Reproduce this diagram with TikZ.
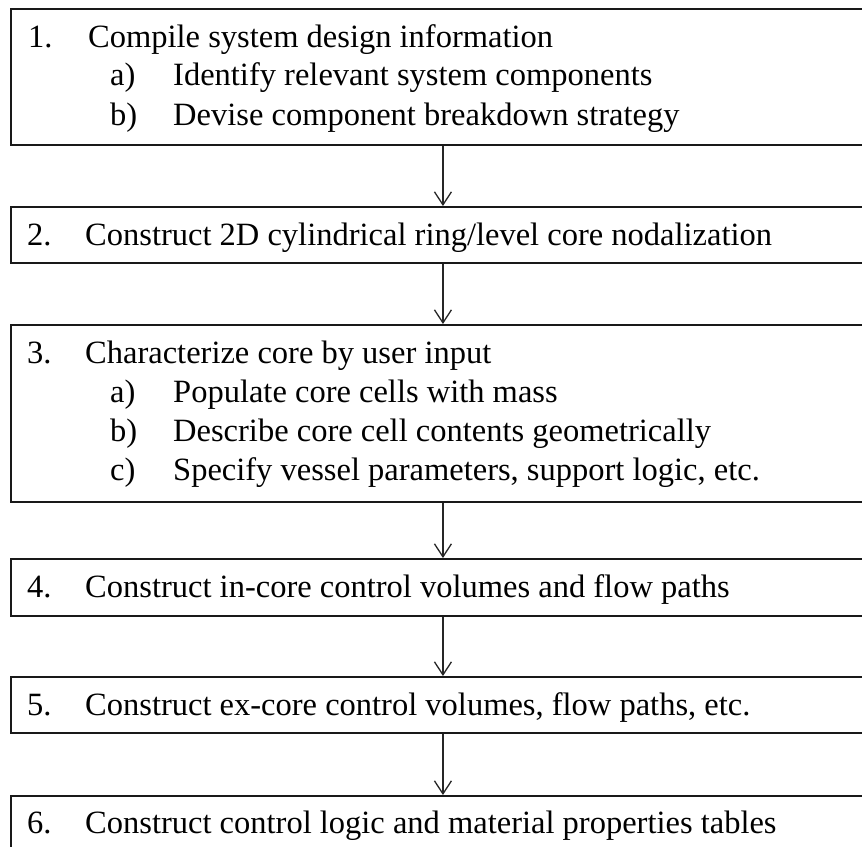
\documentclass[tikz,border=0pt]{standalone}
\usepackage{fontspec}
\setmainfont{Liberation Serif}
\usetikzlibrary{arrows.meta}
\begin{document}
\begin{tikzpicture}[x=1pt,y=-1pt,
  box/.style={draw=black!90, line width=1.9pt, rectangle, inner sep=0pt, anchor=north west, minimum width=864pt},
  txt/.style={anchor=base west, inner sep=0pt, font=\fontsize{32.5}{38}\selectfont},
  flow/.style={draw=black!85, line width=1.3pt, -{Straight Barb[length=13pt,width=17pt]}}]
\useasboundingbox (0,0) rectangle (862,846);
\clip (0,0) rectangle (862,846);
\fill[white] (0,0) rectangle (862,846);

\node[box, minimum height=136pt] (b1) at (10,8) {};
\node[box, minimum height=56pt]  (b2) at (10,206) {};
\node[box, minimum height=177pt] (b3) at (10,324) {};
\node[box, minimum height=57pt]  (b4) at (10,558) {};
\node[box, minimum height=56pt]  (b5) at (10,676) {};
\node[box, minimum height=56pt]  (b6) at (10,795) {};

\draw[flow] (b1.south) -- (b2.north);
\draw[flow] (b2.south) -- (b3.north);
\draw[flow] (b3.south) -- (b4.north);
\draw[flow] (b4.south) -- (b5.north);
\draw[flow] (b5.south) -- (b6.north);

\node[txt] (n1)  at (28,47)  {1.};
\node[txt] (t1)  at (88,47)  {Compile system design information};
\node[txt] (n1a) at (110,85) {a)};
\node[txt] (t1a) at (173,85) {Identify relevant system components};
\node[txt] (n1b) at (110,125) {b)};
\node[txt] (t1b) at (173,125) {Devise component breakdown strategy};

\node[txt] (n2)  at (27,245) {2.};
\node[txt] (t2)  at (85,245) {Construct 2D cylindrical ring/level core nodalization};

\node[txt] (n3)  at (27,363) {3.};
\node[txt] (t3)  at (85,363) {Characterize core by user input};
\node[txt] (n3a) at (110,402) {a)};
\node[txt] (t3a) at (173,402) {Populate core cells with mass};
\node[txt] (n3b) at (110,441) {b)};
\node[txt] (t3b) at (173,441) {Describe core cell contents geometrically};
\node[txt] (n3c) at (110,480) {c)};
\node[txt] (t3c) at (173,480) {Specify vessel parameters, support logic, etc.};

\node[txt] (n4)  at (27,597) {4.};
\node[txt] (t4)  at (85,597) {Construct in-core control volumes and flow paths};

\node[txt] (n5)  at (27,715) {5.};
\node[txt] (t5)  at (85,715) {Construct ex-core control volumes, flow paths, etc.};

\node[txt] (n6)  at (27,833) {6.};
\node[txt] (t6)  at (85,833) {Construct control logic and material properties tables};
\end{tikzpicture}
\end{document}
